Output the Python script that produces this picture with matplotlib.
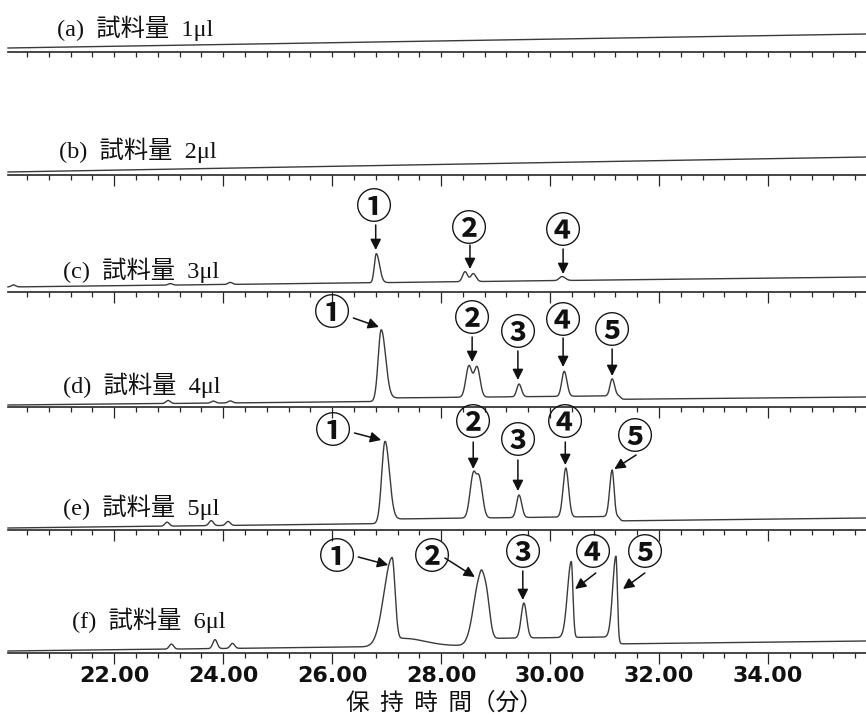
import numpy as np
import matplotlib
matplotlib.use("Agg")
import matplotlib.pyplot as plt
from matplotlib.ticker import MultipleLocator, FormatStrFormatter

plt.rcParams['font.family'] = ['Liberation Serif', 'Noto Sans CJK JP', 'DejaVu Sans']

# ---------------- data ----------------
run_tags = ["(a)", "(b)", "(c)", "(d)", "(e)", "(f)"]
sample_volume_ul = [1, 2, 3, 4, 5, 6]
x_min, x_max = 20.05, 35.80           # retention time window (min)
major_step, minor_step = 2.0, 0.4

# linear baseline drift of each run (signal at start / end of window)
drift_start = [4, 3, 5, 2, 2, 2]
drift_end = [18, 18, 15, 10, 12, 12]

# raised baseline between the main peaks: start, end (min), level
plateau_start = [0, 0, 0, 26.90, 26.97, 28.80]
plateau_end = [0, 0, 0, 31.30, 31.28, 31.26]
plateau_level = [0, 0, 0, 3.5, 4.5, 7.0]

# peak tables: retention time (min), height, left / right width (min)
rt_c = [20.15, 23.03, 24.13, 26.81, 28.44, 28.59, 30.22]
ht_c = [2, 1.5, 2, 29, 10, 8, 4]
wl_c = [0.04, 0.04, 0.04, 0.035, 0.045, 0.045, 0.05]
wr_c = [0.04, 0.04, 0.04, 0.06, 0.045, 0.05, 0.06]

rt_d = [22.99, 23.82, 24.13, 26.90, 28.51, 28.66, 29.43, 30.26, 31.14]
ht_d = [3, 2, 2, 70, 31, 30, 12.7, 25, 17]
wl_d = [0.04, 0.04, 0.04, 0.055, 0.055, 0.055, 0.04, 0.045, 0.04]
wr_d = [0.04, 0.04, 0.04, 0.08, 0.055, 0.055, 0.045, 0.05, 0.045]

rt_e = [22.97, 23.78, 24.09, 26.97, 28.59, 28.70, 29.43, 30.29, 31.14]
ht_e = [4, 5, 4, 80, 42.5, 38.8, 22.5, 49, 46.5]
wl_e = [0.04, 0.04, 0.04, 0.06, 0.06, 0.05, 0.045, 0.05, 0.045]
wr_e = [0.04, 0.04, 0.04, 0.08, 0.05, 0.06, 0.05, 0.05, 0.035]

rt_f = [23.05, 23.85, 24.17, 27.10, 27.30, 28.72, 28.84, 29.52, 30.39, 31.21]
ht_f = [5, 9, 5, 88, 8, 68, 36, 35, 76, 81]
wl_f = [0.04, 0.04, 0.04, 0.15, 0.10, 0.12, 0.06, 0.05, 0.07, 0.06]
wr_f = [0.04, 0.04, 0.04, 0.055, 0.40, 0.07, 0.06, 0.05, 0.03, 0.025]

peak_tables = [([], [], [], []), ([], [], [], []),
               (rt_c, ht_c, wl_c, wr_c), (rt_d, ht_d, wl_d, wr_d),
               (rt_e, ht_e, wl_e, wr_e), (rt_f, ht_f, wl_f, wr_f)]

# peak numbering: label, label position (min, level), arrow start, arrow tip
marks_c = [("①", (26.77, 84), (26.80, 67), (26.80, 42)),
           ("②", (28.51, 62), (28.53, 47), (28.53, 23)),
           ("④", (30.24, 59), (30.24, 43), (30.24, 18))]
marks_d = [("①", (26.00, 92), (26.39, 89), (26.86, 80)),
           ("②", (28.57, 87), (28.57, 70), (28.57, 45)),
           ("③", (29.41, 72), (29.41, 56), (29.41, 27)),
           ("④", (30.24, 85), (30.24, 69), (30.24, 40)),
           ("⑤", (31.14, 74), (31.14, 58), (31.14, 31))]
marks_e = [("①", (26.02, 97), (26.41, 97), (26.90, 90)),
           ("②", (28.59, 105), (28.59, 88), (28.59, 61)),
           ("③", (29.41, 87), (29.41, 70), (29.41, 39)),
           ("④", (30.28, 105), (30.28, 88), (30.28, 65)),
           ("⑤", (31.56, 92), (31.58, 75), (31.18, 61))]
marks_f = [("①", (26.09, 95), (26.48, 96), (27.03, 88)),
           ("②", (27.83, 95), (28.07, 95), (28.62, 76)),
           ("③", (29.50, 98), (29.50, 82), (29.50, 53)),
           ("④", (30.79, 98), (30.84, 80), (30.46, 64)),
           ("⑤", (31.74, 98), (31.74, 80), (31.34, 64))]
peak_marks = [[], [], marks_c, marks_d, marks_e, marks_f]

axis_label = "保  持  時  間（分）"

# ---------------- layout (pixels) ----------------
W, H = 866, 715
axis_line_y = [52, 175, 292, 407, 530, 653]
label_center_x = [135, 138, 141, 142, 141, 149]
label_y = [24, 25, 22, 22, 23, 33]
trace_color = "#3a3a3a"
axis_color = "#262626"

fig = plt.figure(figsize=(W / 100, H / 100), dpi=100)
fig.patch.set_facecolor("white")

t = np.linspace(x_min, x_max, 6000)


def peak_shape(tt, t0, h, wl, wr):
    w = np.where(tt < t0, wl, wr)
    return h * np.exp(-0.5 * ((tt - t0) / w) ** 2)


prev_y = 0
for i in range(6):
    span = axis_line_y[i] - prev_y
    ax = fig.add_axes([8 / W, 1 - axis_line_y[i] / H, (W - 8) / W, span / H])
    ax.set_facecolor("none")
    ax.set_xlim(x_min, x_max)
    ax.set_ylim(0, span)
    prev_y = axis_line_y[i]

    # chromatogram trace
    frac = (t - x_min) / (x_max - x_min)
    y = drift_start[i] + (drift_end[i] - drift_start[i]) * frac
    if plateau_level[i] > 0:
        y = y + plateau_level[i] * 0.5 * (np.tanh((t - plateau_start[i]) / 0.08)
                                          - np.tanh((t - plateau_end[i]) / 0.03))
    rts, hts, wls, wrs = peak_tables[i]
    for t0, h, wl, wr in zip(rts, hts, wls, wrs):
        y = y + peak_shape(t, t0, h, wl, wr)
    ax.plot(t, y, color=trace_color, lw=1.0, solid_joinstyle="round", clip_on=False)

    # frame: bottom axis only
    for side in ("top", "left", "right"):
        ax.spines[side].set_visible(False)
    ax.spines["bottom"].set_color(axis_color)
    ax.spines["bottom"].set_linewidth(1.2)
    ax.yaxis.set_visible(False)
    ax.xaxis.set_major_locator(MultipleLocator(major_step))
    ax.xaxis.set_minor_locator(MultipleLocator(minor_step))
    major_len = 3.6 if i == 0 else 7.9
    ax.tick_params(axis="x", which="major", direction="out", length=major_len,
                   width=0.9, color=axis_color)
    ax.tick_params(axis="x", which="minor", direction="out", length=3.6,
                   width=0.9, color=axis_color)
    if i == 5:
        ax.xaxis.set_major_formatter(FormatStrFormatter("%.2f"))
        ax.tick_params(axis="x", which="major", labelsize=16, pad=1.5,
                       labelcolor="#111111")
        for lab in ax.get_xticklabels():
            lab.set_fontfamily("DejaVu Sans")
            lab.set_fontweight("bold")
    else:
        ax.tick_params(axis="x", which="both", labelbottom=False)

    # run label
    x_lab = 22 + (label_center_x[i] - 114) / 54.5
    ax.text(x_lab, label_y[i], f"{run_tags[i]}  試料量  {sample_volume_ul[i]}μl",
            ha="center", va="center", fontsize=17.5, color="#111111",
            family=["Liberation Serif", "Noto Sans CJK JP"])

    # numbered peak markers
    for txt, pos, start, tip in peak_marks[i]:
        ax.text(pos[0], pos[1], txt, ha="center", va="center", fontsize=26,
                fontweight="bold", color="#111111", family=["Noto Sans CJK JP"],
                clip_on=False)
        ax.annotate("", xy=tip, xytext=start, annotation_clip=False,
                    arrowprops=dict(arrowstyle="-|>", color="#111111", lw=1.1,
                                    mutation_scale=16, shrinkA=0, shrinkB=0))

fig.text(444 / W, 1 - 703 / H, axis_label, ha="center", va="center",
         fontsize=17, color="#111111", family=["Noto Sans CJK JP"])

fig.savefig("out.png", dpi=100, facecolor="white")
